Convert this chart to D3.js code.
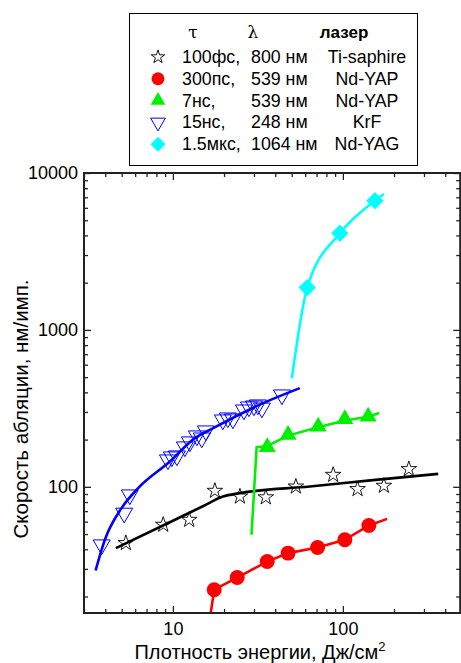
<!DOCTYPE html>
<html>
<head>
<meta charset="utf-8">
<script src="https://cdn.jsdelivr.net/npm/d3@7"></script>
<style>
    body { margin: 0; background: #fff; }
    svg { display: block; font-family: "Liberation Sans", Arial, sans-serif; }
</style>
</head>
<body>
<svg id="chart" width="461" height="663"></svg>
<script>
// --- Data ---
const starPts = [[5.29, 43.8], [8.77, 57.3], [12.47, 61.6], [17.66, 94.3], [24.8, 86.7], [35.2, 85.7],
    [52.9, 100.4], [87.7, 119.2], [122, 96.7], [174.3, 101.5], [244.5, 129.7]];
const starLine = [[4.62, 40.7], [10, 60.8], [15, 75.2], [19.7, 86.7], [24.8, 91.2], [64, 100.4],
    [150, 110.4], [363.6, 121]];

const circlePts = [[17.5, 22.1], [23.9, 26.4], [35.9, 33.4], [47.6, 37.8], [71, 41.1], [102.7, 46], [142.2, 56.7]];
const circleLine = [[16.7, 15.7], [17.5, 22.1], [23.9, 26.4], [35.9, 33.4], [47.6, 37.8], [71, 41.1],
    [102.7, 46], [142.2, 56.7], [182, 62.5]];

const trianglePts = [[35.9, 179], [47.6, 214.4], [71.6, 242], [102.7, 270], [140.9, 280.4]];
const triangleLine = [[29, 49.5], [31.1, 179], [35.9, 182], [47.6, 212], [71.6, 240], [102.7, 265], [140.9, 280], [163.5, 295]];

const downPts = [[3.81, 42.7], [5.17, 68.0], [5.58, 88.9], [9.35, 148.6], [9.86, 155.3], [10.56, 157.6],
    [11.77, 179.8], [12.59, 193.5], [13.84, 211.3], [14.79, 205], [15.63, 227.4], [19.68, 267.2],
    [21.07, 275], [22.56, 271], [26.19, 309.3], [28.01, 323.3], [29.98, 328], [31.62, 333],
    [33.4, 318], [43.8, 385.5]];
const downLine = [[3.51, 29.3], [3.98, 46.0], [4.99, 73.2], [6.25, 98.1], [9.6, 144.9], [13.47, 204.2],
    [17.26, 236.5], [33.97, 341.3], [55.8, 425.4]];

const diamondPts = [[61.7, 1860], [96.0, 4130], [154.3, 6660]];
const diamondLine = [[50.1, 492], [61.7, 1860], [96.0, 4130], [154.3, 6660], [174.3, 7350]];

const xMajor = [10, 100];
const xMinor = [3, 4, 5, 6, 7, 8, 9, 20, 30, 40, 50, 60, 70, 80, 90, 200, 300, 400];
const yMajor = [100, 1000, 10000];
const yMinor = [20, 30, 40, 50, 60, 70, 80, 90, 200, 300, 400, 500, 600, 700, 800, 900,
    2000, 3000, 4000, 5000, 6000, 7000, 8000, 9000];

const tauLabels = ['100фс,', '300пс,', '7нс,', '15нс,', '1.5мкс,'];
const lambdaLabels = ['800 нм', '539 нм', '539 нм', '248 нм', '1064 нм'];
const laserLabels = ['Ti-saphire', 'Nd-YAP', 'Nd-YAP', 'KrF', 'Nd-YAG'];

// --- Scales ---
const plotL = 84, plotR = 460.2, plotT = 173, plotB = 613;
const x = d3.scaleLog().domain([3, 490]).range([plotL, plotR]);
const y = d3.scaleLog().domain([15.7, 10000]).range([plotB, plotT]);

const svg = d3.select('#chart');

svg.append('defs').append('clipPath').attr('id', 'plot-clip')
    .append('rect').attr('x', plotL).attr('y', plotT).attr('width', plotR - plotL).attr('height', plotB - plotT);

// --- Series ---
const series = [
    { pts: starPts, line: starLine, color: '#000', curve: d3.curveMonotoneX,
      shape: d3.symbolStar, size: 75, fill: 'none', stroke: '#000', sw: 0.9, rot: 0 },
    { pts: circlePts, line: circleLine, color: '#ff0000', curve: d3.curveLinear,
      shape: d3.symbolCircle, size: 175, fill: '#ff0000', stroke: 'none', sw: 0, rot: 0 },
    { pts: trianglePts, line: triangleLine, color: '#00f000', curve: d3.curveLinear,
      shape: d3.symbolTriangle, size: 125, fill: '#00f000', stroke: 'none', sw: 0, rot: 0 },
    { pts: downPts, line: downLine, color: '#0000ff', curve: d3.curveMonotoneX,
      shape: d3.symbolTriangle, size: 125, fill: 'none', stroke: '#0000ff', sw: 1, rot: 180 },
    { pts: diamondPts, line: diamondLine, color: '#00ffff', curve: d3.curveMonotoneX,
      shape: d3.symbolSquare, size: 150, fill: '#00ffff', stroke: 'none', sw: 0, rot: 45 }
];

const plot = svg.append('g').attr('clip-path', 'url(#plot-clip)');

series.forEach(s => {
    plot.append('path')
        .datum(s.line)
        .attr('fill', 'none')
        .attr('stroke', s.color)
        .attr('stroke-width', 2.6)
        .attr('d', d3.line().curve(s.curve).x(d => x(d[0])).y(d => y(d[1])));
});

series.forEach(s => {
    plot.selectAll(null)
        .data(s.pts)
        .enter()
        .append('path')
        .attr('d', d3.symbol().type(s.shape).size(s.size))
        .attr('transform', d => `translate(${x(d[0])},${y(d[1])}) rotate(${s.rot})`)
        .attr('fill', s.fill)
        .attr('stroke', s.stroke)
        .attr('stroke-width', s.sw);
});

// --- Axes (ticks point inward) ---
function styleAxis(g) {
    g.select('.domain').remove();
    g.selectAll('.tick line').attr('stroke', '#222').attr('stroke-width', 1.3);
    g.selectAll('.tick text').attr('font-size', 18).attr('fill', '#000')
        .attr('font-family', '"Liberation Sans", Arial, sans-serif');
}

svg.append('g').attr('transform', `translate(0,${plotB})`)
    .call(d3.axisBottom(x).tickValues(xMinor).tickSize(-4).tickFormat(''))
    .call(styleAxis);
svg.append('g').attr('transform', `translate(0,${plotB})`)
    .call(d3.axisBottom(x).tickValues(xMajor).tickSize(-7).tickPadding(9).tickFormat(d3.format('d')))
    .call(styleAxis);
svg.append('g').attr('transform', `translate(0,${plotT})`)
    .call(d3.axisTop(x).tickValues(xMinor).tickSize(-4).tickFormat(''))
    .call(styleAxis);
svg.append('g').attr('transform', `translate(0,${plotT})`)
    .call(d3.axisTop(x).tickValues(xMajor).tickSize(-7).tickFormat(''))
    .call(styleAxis);

svg.append('g').attr('transform', `translate(${plotL},0)`)
    .call(d3.axisLeft(y).tickValues(yMinor).tickSize(-4).tickFormat(''))
    .call(styleAxis);
svg.append('g').attr('transform', `translate(${plotL},0)`)
    .call(d3.axisLeft(y).tickValues(yMajor).tickSize(-7).tickPadding(6).tickFormat(d3.format('d')))
    .call(styleAxis);
svg.append('g').attr('transform', `translate(${plotR},0)`)
    .call(d3.axisRight(y).tickValues(yMinor).tickSize(-4).tickFormat(''))
    .call(styleAxis);
svg.append('g').attr('transform', `translate(${plotR},0)`)
    .call(d3.axisRight(y).tickValues(yMajor).tickSize(-7).tickFormat(''))
    .call(styleAxis);

svg.append('rect')
    .attr('x', plotL).attr('y', plotT)
    .attr('width', plotR - plotL).attr('height', plotB - plotT)
    .attr('fill', 'none').attr('stroke', '#222').attr('stroke-width', 2);

// --- Axis titles ---
const xTitle = svg.append('text')
    .attr('x', 260).attr('y', 659)
    .attr('text-anchor', 'middle')
    .attr('font-size', 20);
xTitle.append('tspan').text('Плотность энергии, Дж/см');
xTitle.append('tspan').attr('dy', -8).attr('font-size', 13).text('2');

svg.append('text')
    .attr('transform', 'translate(28,409) rotate(-90)')
    .attr('text-anchor', 'middle')
    .attr('font-size', 20.5)
    .text('Скорость абляции, нм/имп.');

// --- Legend ---
const legend = svg.append('g');
legend.append('rect')
    .attr('x', 129.5).attr('y', 13.5).attr('width', 288).attr('height', 152)
    .attr('fill', '#fff').attr('stroke', '#000').attr('stroke-width', 1);

legend.append('text').attr('x', 193).attr('y', 38).attr('text-anchor', 'middle')
    .attr('font-family', '"DejaVu Serif", serif').attr('font-size', 17).text('τ');
legend.append('text').attr('x', 253).attr('y', 38).attr('text-anchor', 'middle')
    .attr('font-family', '"DejaVu Serif", serif').attr('font-size', 17).text('λ');
legend.append('text').attr('x', 344).attr('y', 38).attr('text-anchor', 'middle')
    .attr('font-weight', 'bold').attr('font-size', 17).text('лазер');

series.forEach((s, i) => {
    const cy = 57 + i * 21.8;
    legend.append('path')
        .attr('d', d3.symbol().type(s.shape).size(s.size * 0.75))
        .attr('transform', `translate(158,${cy}) rotate(${s.rot})`)
        .attr('fill', s.fill)
        .attr('stroke', s.stroke)
        .attr('stroke-width', s.sw);
    legend.append('text').attr('x', 182).attr('y', cy + 6).attr('font-size', 17.8).text(tauLabels[i]);
    legend.append('text').attr('x', 251).attr('y', cy + 6).attr('font-size', 17.8).text(lambdaLabels[i]);
    legend.append('text').attr('x', 367).attr('y', cy + 6).attr('text-anchor', 'middle')
        .attr('font-size', 17.8).text(laserLabels[i]);
});
</script>
</body>
</html>
